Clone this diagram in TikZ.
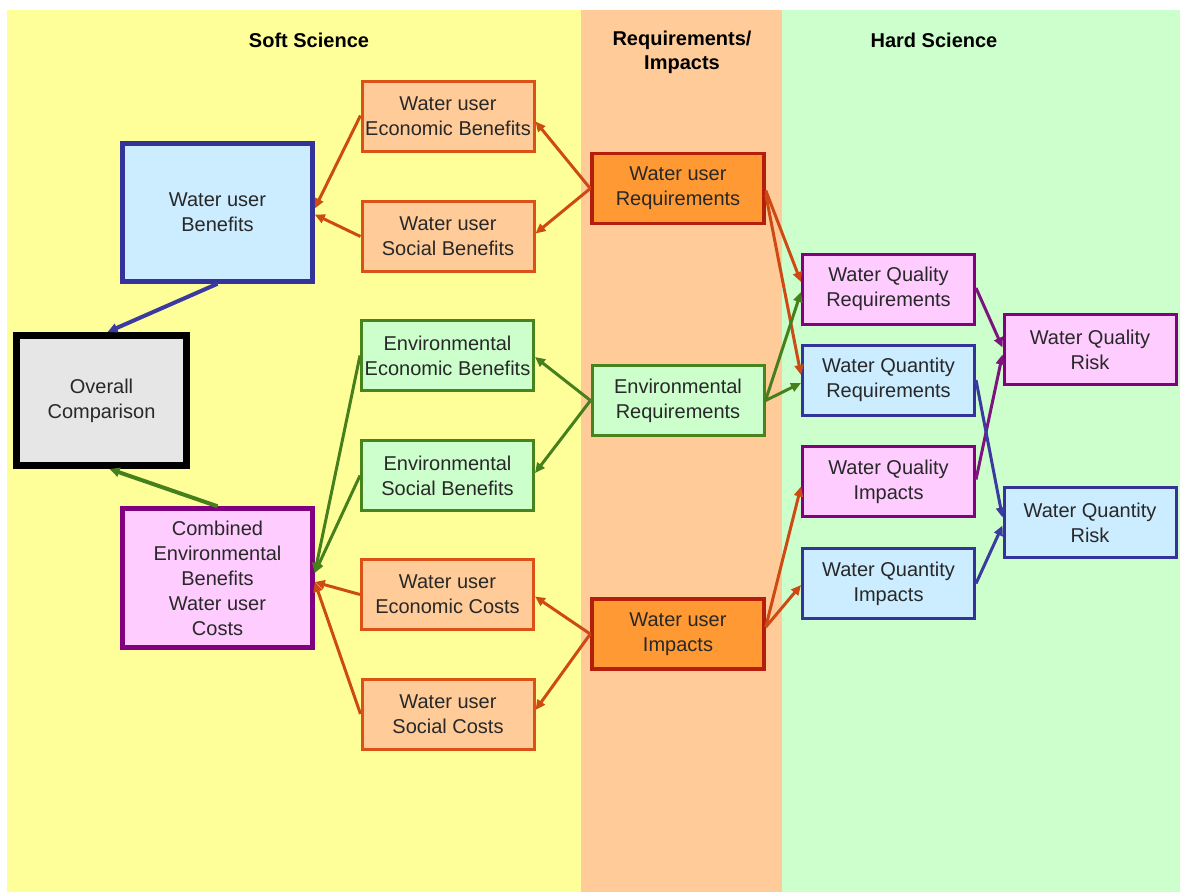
\documentclass[tikz,border=0pt]{standalone}
\usepackage{fontspec}
\setmainfont{Liberation Sans}
\usetikzlibrary{arrows.meta,calc}

% palette
\definecolor{bandsoft}{RGB}{255,255,153}
\definecolor{bandreq}{RGB}{255,204,153}
\definecolor{bandhard}{RGB}{204,255,204}
\definecolor{peachfill}{RGB}{255,204,153}
\definecolor{peachline}{RGB}{218,82,22}
\definecolor{orangefill}{RGB}{255,153,51}
\definecolor{orangeline}{RGB}{180,30,10}
\definecolor{bluefill}{RGB}{204,236,255}
\definecolor{blueline}{RGB}{51,51,153}
\definecolor{pinkfill}{RGB}{255,204,255}
\definecolor{pinkline}{RGB}{128,0,128}
\definecolor{greenfill}{RGB}{204,255,204}
\definecolor{greenline}{RGB}{72,132,30}
\definecolor{greyfill}{RGB}{230,230,230}
\definecolor{txt}{RGB}{40,40,40}
\definecolor{redarrow}{RGB}{206,74,20}
\definecolor{greenarrow}{RGB}{70,128,28}
\definecolor{bluearrow}{RGB}{58,58,160}
\definecolor{purplearrow}{RGB}{125,20,125}

\tikzset{
  box/.style={draw, rectangle, inner sep=0pt, align=center, text=txt,
    font=\fontsize{20}{25}\selectfont},
  small/.style={box, line width=3pt, minimum width=172pt, minimum height=70pt},
  peach/.style={small, fill=peachfill, draw=peachline},
  darkorange/.style={small, fill=orangefill, draw=orangeline, line width=3.5pt},
  greenbox/.style={small, fill=greenfill, draw=greenline},
  bluebox/.style={small, fill=bluefill, draw=blueline},
  pinkbox/.style={small, fill=pinkfill, draw=pinkline},
  header/.style={align=center, text=black, font=\fontsize{20}{24}\selectfont\bfseries},
  link/.style={line width=3pt, -{Triangle[length=10pt,width=9pt]}},
  redlink/.style={link, draw=redarrow},
  greenlink/.style={link, draw=greenarrow},
  bluelink/.style={link, draw=bluearrow},
  purplelink/.style={link, draw=purplearrow}
}

\begin{document}
\begin{tikzpicture}[x=1pt,y=-1pt]
  % page and the three column bands
  \useasboundingbox (0,0) rectangle (1180,892);
  \fill[white] (0,0) rectangle (1180,892);
  \fill[bandsoft] (7,10) rectangle (581,892);
  \fill[bandreq] (581,10) rectangle (782,892);
  \fill[bandhard] (782,10) rectangle (1180,892);

  % column headings
  \node[header] (hsoft) at (309,40) {Soft Science};
  \node[header] (hreq) at (682,52) {Requirements/\\Impacts};
  \node[header] (hhard) at (934,40) {Hard Science};

  % soft science column
  \node[peach] (wueb) at (448,116.5) {Water user\\Economic Benefits};
  \node[peach] (wusb) at (448,236.5) {Water user\\Social Benefits};
  \node[box, fill=bluefill, draw=blueline, line width=4.5pt,
        minimum width=190pt, minimum height=138pt] (wub) at (217.5,212.5)
        {Water user\\Benefits};
  \node[box, fill=greyfill, draw=black, line width=7pt,
        minimum width=170pt, minimum height=130pt] (ov) at (101.5,400.5)
        {Overall\\Comparison};
  \node[greenbox] (eeb) at (447.5,355.5) {Environmental\\Economic Benefits};
  \node[greenbox] (esb) at (447.5,475.5) {Environmental\\Social Benefits};
  \node[box, fill=pinkfill, draw=pinkline, line width=4.5pt,
        minimum width=190pt, minimum height=139pt] (cb) at (217.5,578)
        {Combined\\Environmental\\Benefits\\Water user\\Costs};
  \node[peach] (wuec) at (447.5,594.5) {Water user\\Economic Costs};
  \node[peach] (wusc) at (448,714) {Water user\\Social Costs};

  % requirements / impacts column
  \node[darkorange] (wur) at (678,188.5) {Water user\\Requirements};
  \node[greenbox] (er) at (678,400.5) {Environmental\\Requirements};
  \node[darkorange] (wui) at (678,634) {Water user\\Impacts};

  % hard science column
  \node[pinkbox] (wqr) at (888.5,289) {Water Quality\\Requirements};
  \node[bluebox] (wqtr) at (888.5,380) {Water Quantity\\Requirements};
  \node[pinkbox] (wqi) at (888.5,481.5) {Water Quality\\Impacts};
  \node[bluebox] (wqti) at (888.5,583.5) {Water Quantity\\Impacts};
  \node[pinkbox] (wqrisk) at (1090,349.5) {Water Quality\\Risk};
  \node[bluebox] (wqtrisk) at (1090,522.5) {Water Quantity\\Risk};

  % water user requirements feed the benefits
  \draw[redlink] (wur.west) -- ($(wueb.east)+(0,5)$);
  \draw[redlink] (wur.west) -- ($(wusb.east)+(0,-3)$);
  \draw[redlink] ($(wueb.west)+(0,-1)$) -- ($(wub.east)+(0,-4)$);
  \draw[redlink] (wusb.west) -- ($(wub.east)+(0,2)$);
  \draw[bluelink, line width=4pt] (wub.south) -- ($(ov.north)+(6,0)$);

  % environmental requirements feed the combined box
  \draw[greenlink] (er.west) -- ($(eeb.east)+(0,1.5)$);
  \draw[greenlink] (er.west) -- ($(esb.east)+(0,-2.5)$);
  \draw[greenlink] (eeb.west) -- ($(cb.east)+(0,-5)$);
  \draw[greenlink] (esb.west) -- ($(cb.east)+(0,-5)$);
  \draw[greenlink, line width=4pt] (cb.north) -- ($(ov.south)+(8,0)$);

  % water user impacts feed the costs
  \draw[redlink] (wui.west) -- ($(wuec.east)+(0,2)$);
  \draw[redlink] (wui.west) -- ($(wusc.east)+(0,-4)$);
  \draw[redlink] (wuec.west) -- ($(cb.east)+(0,4)$);
  \draw[redlink] (wusc.west) -- ($(cb.east)+(0,4)$);

  % requirements and impacts into the hard science boxes
  \draw[redlink] ($(wur.east)+(0,2)$) -- ($(wqr.west)+(0,-7)$);
  \draw[redlink] ($(wur.east)+(0,6)$) -- ($(wqtr.west)+(0,-5)$);
  \draw[greenlink] (er.east) -- ($(wqr.west)+(0,3)$);
  \draw[greenlink] (er.east) -- ($(wqtr.west)+(0,3)$);
  \draw[redlink] ($(wui.east)+(0,-7)$) -- ($(wqi.west)+(0,5)$);
  \draw[redlink] ($(wui.east)+(0,-7)$) -- ($(wqti.west)+(0,1.5)$);

  % risks
  \draw[purplelink] ($(wqr.east)+(0,-1)$) -- ($(wqrisk.west)+(0,-2)$);
  \draw[purplelink] ($(wqi.east)+(0,-2)$) -- ($(wqrisk.west)+(0,5)$);
  \draw[bluelink] (wqtr.east) -- ($(wqtrisk.west)+(0,-5)$);
  \draw[bluelink] (wqti.east) -- ($(wqtrisk.west)+(0,3)$);
\end{tikzpicture}
\end{document}
